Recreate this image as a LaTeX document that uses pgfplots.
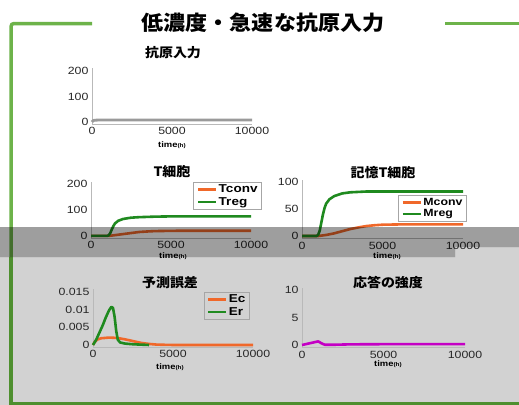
\documentclass[border=0pt]{standalone}
\usepackage{fontspec}
\setmainfont{Liberation Sans}[FakeStretch=1.18]
\newfontfamily\cjk{Noto Sans CJK JP}[FakeStretch=1.08]
\usepackage{pgfplots}
\pgfplotsset{compat=1.18}

\definecolor{frameG}{HTML}{6DB34A}
\definecolor{frameD}{HTML}{4E8F2F}
\definecolor{lowgray}{HTML}{D2D2D2}
\definecolor{cOr}{HTML}{F0682A}
\definecolor{cGr}{HTML}{1F8A1F}
\definecolor{cMg}{HTML}{C400C4}
\definecolor{cAg}{HTML}{9A9A9A}

\pgfplotsset{panel/.style={
    scale only axis, anchor=south west,
    xmin=0, xmax=10000, clip=false,
    scaled x ticks=false, scaled y ticks=false,
    axis lines*=left,
    axis line style={draw=gray!55, line width=0.7bp},
    major tick length=0pt,
    xtick={0,5000,10000}, xticklabels={0,5000,10000},
    ticklabel style={font=\fontsize{10.5}{10.5}\selectfont, text=black!85},
    every axis plot/.append style={line width=2.6bp, line join=round},
    legend cell align=left,
    legend image code/.code={\draw[##1, line width=2.8bp] (0bp,0bp) -- (18bp,0bp);},
    legend style={draw=gray!70, line width=0.6bp, fill=white,
        font=\bfseries\fontsize{11.5}{12}\selectfont,
        inner xsep=3bp, inner ysep=1.5bp, nodes={inner sep=1.2bp}, row sep=0.5bp},
}}

\begin{document}
\begin{tikzpicture}
\useasboundingbox (0,0) rectangle (519bp,-405bp);
\clip (0,0) rectangle (519bp,-405bp);

% background and frame
\fill[white] (0,0) rectangle (519bp,-405bp);
\fill[lowgray] (0,-257bp) -- (455bp,-257bp) -- (455bp,-247bp) -- (519bp,-247bp)
    -- (519bp,-405bp) -- (0,-405bp) -- cycle;
\draw[frameG, line width=3.5bp, rounded corners=3bp] (92bp,-23.5bp) -- (11bp,-23.5bp) -- (11bp,-257bp);
\draw[frameD, line width=3.5bp] (11bp,-257bp) -- (11bp,-403.3bp) -- (519bp,-403.3bp);
\draw[frameG, line width=3.5bp] (445bp,-23.5bp) -- (519bp,-23.5bp);

\node[font=\cjk\bfseries\fontsize{20.5}{20.5}\selectfont] at (263bp,-23bp) {低濃度・急速な抗原入力};

% titles and time labels
\begin{scope}[every node/.style={font=\cjk\bfseries\fontsize{13}{13}\selectfont}]
\node at (173bp,-53bp) {抗原入力};
\node at (172bp,-172bp) {T細胞};
\node at (383bp,-173bp) {記憶T細胞};
\node at (170bp,-283bp) {予測誤差};
\node at (388bp,-283bp) {応答の強度};
\end{scope}
\begin{scope}[every node/.style={font=\bfseries\fontsize{8}{8}\selectfont}]
\node at (172bp,-145bp) {time{\fontsize{5.5}{5.5}\selectfont(h)}};
\node at (173bp,-256bp) {time{\fontsize{5.5}{5.5}\selectfont(h)}};
\node at (387bp,-256bp) {time{\fontsize{5.5}{5.5}\selectfont(h)}};
\node at (170bp,-367bp) {time{\fontsize{5.5}{5.5}\selectfont(h)}};
\node at (388bp,-364bp) {time{\fontsize{5.5}{5.5}\selectfont(h)}};
\end{scope}

% antigen input
\begin{axis}[panel, at={(92bp,-124bp)}, width=160bp, height=56bp,
    ymin=-8, ymax=212, ytick={0,100,200}, yticklabels={0,100,200}]
\addplot[cAg, line width=2.8bp] coordinates {(0,0) (40,3.5) (100,6) (200,7) (400,7.5) (10000,7.5)};
\end{axis}

% T cells
\begin{axis}[panel, at={(91bp,-238bp)}, width=160bp, height=56bp,
    ymin=-8, ymax=207, ytick={0,100,200}, yticklabels={0,100,200},
    legend style={at={(1.069,1.0)}, anchor=north east}]
\addplot[cOr] coordinates {(0,0) (1100,0) (1500,3) (2000,7) (2500,11) (3000,15) (3500,17)
    (4000,18.5) (5000,19.5) (6000,20) (10000,20)};
\addlegendentry{Tconv}
\addplot[cGr] coordinates {(0,0) (1000,0) (1100,2) (1200,10) (1300,25) (1400,38) (1500,48)
    (1700,58) (2000,65) (2500,70) (3000,72) (4000,74) (5000,75) (10000,75)};
\addlegendentry{Treg}
\end{axis}

% memory T cells
\begin{axis}[panel, at={(302bp,-238.2bp)}, width=161bp, height=58.3bp,
    ymin=-4, ymax=104, ytick={0,50,100}, yticklabels={0,50,100},
    legend style={at={(1.025,0.741)}, anchor=north east, font=\bfseries\fontsize{10.5}{11}\selectfont}]
\addplot[cOr] coordinates {(0,0) (1000,0) (1500,2) (2000,5) (2500,9) (3000,13) (3500,16)
    (4000,18.5) (4500,20) (5000,21) (6000,21.5) (10000,21.5)};
\addlegendentry{Mconv}
\addplot[cGr] coordinates {(0,0) (900,0) (1000,2) (1100,10) (1200,25) (1300,40) (1400,52)
    (1500,60) (1700,68) (2000,74) (2500,79) (3000,81) (4000,82.5) (10000,82.5)};
\addlegendentry{Mreg}
\end{axis}

% prediction error
\begin{axis}[panel, at={(93bp,-347.1bp)}, width=160bp, height=58.6bp,
    ymin=-0.0006, ymax=0.016, ytick={0,0.005,0.01,0.015}, yticklabels={0,0.005,0.01,0.015},
    legend style={at={(0.981,0.94)}, anchor=north east, fill=none}]
\addplot[cOr] coordinates {(0,0) (100,0.0008) (250,0.0015) (500,0.0019) (1000,0.0021)
    (1500,0.002) (2000,0.0016) (2500,0.0011) (3000,0.0006) (3500,0.0003) (4000,0.0001)
    (5000,0) (10000,0)};
\addlegendentry{Ec}
\addplot[cGr] coordinates {(0,0) (200,0.0015) (400,0.0035) (600,0.0055) (800,0.0078)
    (1000,0.0098) (1150,0.0108) (1250,0.0105) (1350,0.008) (1450,0.004) (1550,0.0015)
    (1700,0.0007) (2000,0.0004) (2500,0.0002) (3000,0.0001) (3500,0)};
\addlegendentry{Er}
\end{axis}

% response strength
\begin{axis}[panel, at={(302bp,-347.2bp)}, width=163bp, height=59.4bp,
    ymin=-0.4, ymax=10.4, ytick={0,5,10}, yticklabels={0,5,10}]
\addplot[cMg] coordinates {(0,0) (300,0.2) (600,0.4) (900,0.6) (1000,0.65) (1200,0.3)
    (1400,0.05) (2000,0.05) (3000,0.12) (5000,0.15) (10000,0.15)};
\end{axis}

% dark band across the middle
\fill[black, opacity=0.38] (0,-227bp) -- (519bp,-227bp) -- (519bp,-247bp) -- (455bp,-247bp)
    -- (455bp,-257bp) -- (0,-257bp) -- cycle;
\end{tikzpicture}
\end{document}
